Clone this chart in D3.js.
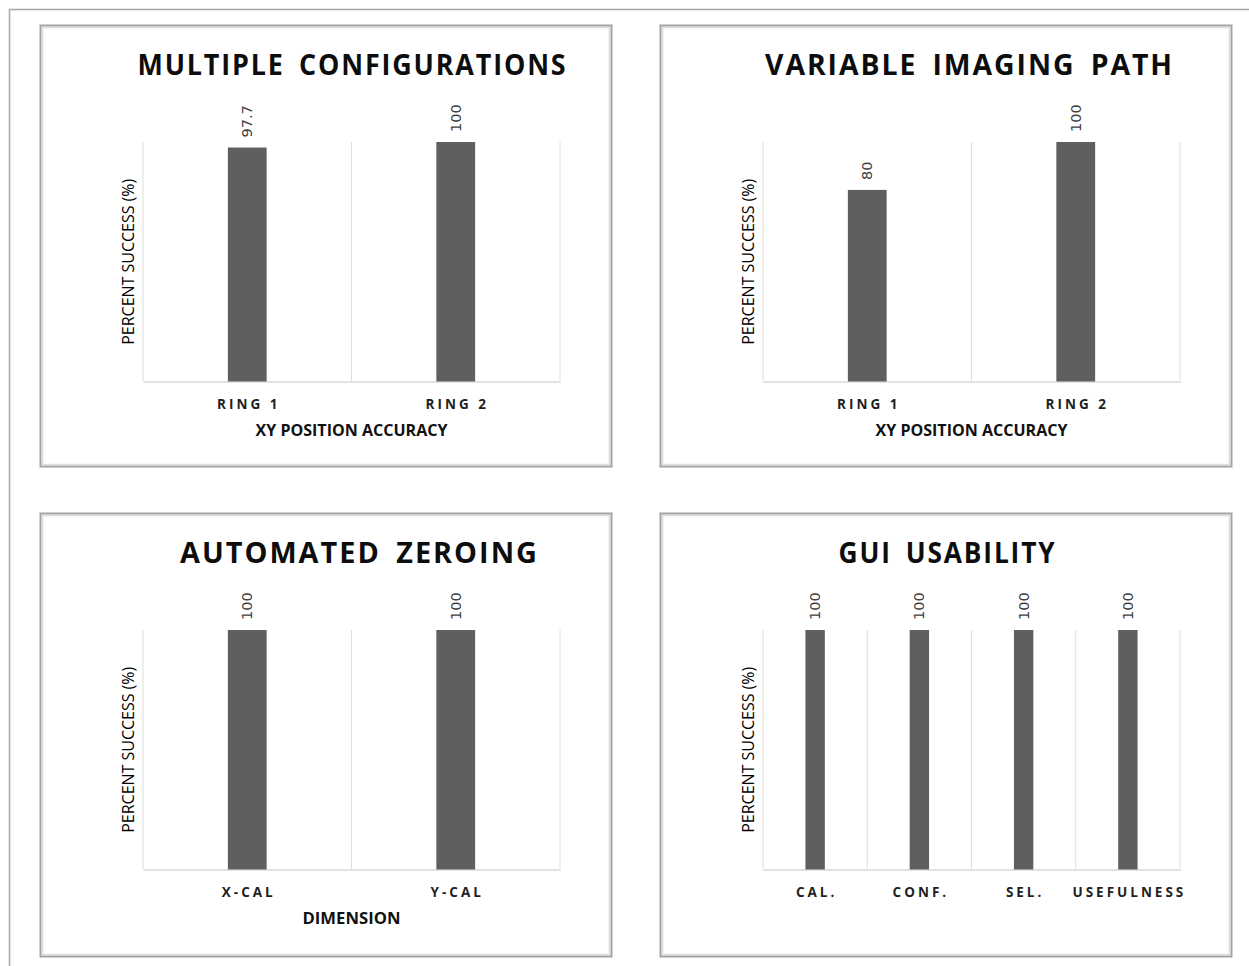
<!DOCTYPE html>
<html>
<head>
<meta charset="utf-8">
<script src="https://cdn.jsdelivr.net/npm/d3@7"></script>
<style>
body { margin: 0; background: #fff; }
</style>
</head>
<body>
<svg id="page" width="1249" height="966"></svg>
<script>
const chartTitles = ['MULTIPLE CONFIGURATIONS', 'VARIABLE IMAGING PATH', 'AUTOMATED ZEROING', 'GUI USABILITY'];
const xAxisTitles = ['XY POSITION ACCURACY', 'XY POSITION ACCURACY', 'DIMENSION', ''];
const yAxisTitle = 'PERCENT SUCCESS (%)';

const multiConfigCategories = ['RING 1', 'RING 2'];
const multiConfigValues = [97.7, 100];
const imagingPathCategories = ['RING 1', 'RING 2'];
const imagingPathValues = [80, 100];
const zeroingCategories = ['X-CAL', 'Y-CAL'];
const zeroingValues = [100, 100];
const guiCategories = ['CAL.', 'CONF.', 'SEL.', 'USEFULNESS'];
const guiValues = [100, 100, 100, 100];

const svg = d3.select('#page');

// thin frame round the whole figure
svg.append('line').attr('x1', 9).attr('x2', 1249).attr('y1', 9.5).attr('y2', 9.5)
    .attr('stroke', '#a8a8a8').attr('stroke-width', 1.5);
svg.append('line').attr('x1', 9.5).attr('x2', 9.5).attr('y1', 9).attr('y2', 966)
    .attr('stroke', '#a8a8a8').attr('stroke-width', 1.5);

class BarChart {

    constructor(opts) {
        this.el = opts.el;
        this.box = opts.box;
        this.title = opts.title;
        this.titleWidth = opts.titleWidth;
        this.titleShift = opts.titleShift || 0;
        this.xTitle = opts.xTitle;
        this.xTitleWidth = opts.xTitleWidth;
        this.data = opts.categories.map((c, i) => ({cat: c, value: opts.values[i]}));
        this.draw();
    }

    draw() {
        const b = this.box;
        this.margin = {top: 117, left: 103, right: 51};
        this.w = b.w - this.margin.left - this.margin.right;
        this.h = 239.5;

        this.g = this.el.append('g').attr('transform', `translate(${b.x},${b.y})`);
        this.g.append('rect')
            .attr('x', 0.5).attr('y', 0.5).attr('width', b.w).attr('height', b.h)
            .attr('fill', '#fff').attr('stroke', '#a3a3a3').attr('stroke-width', 2);
        this.g.append('rect')
            .attr('x', 2.5).attr('y', 2.5).attr('width', b.w - 4).attr('height', b.h - 4)
            .attr('fill', 'none').attr('stroke', '#dcdcdc').attr('stroke-width', 1.5);

        this.plot = this.g.append('g')
            .attr('transform', `translate(${this.margin.left},${this.margin.top})`);

        this.createScales();
        this.addGrid();
        this.addBars();
        this.addTexts();
    }

    createScales() {
        this.xScale = d3.scaleBand()
            .domain(this.data.map(d => d.cat))
            .range([0, this.w])
            .padding(0);
        this.yScale = d3.scaleLinear()
            .domain([0, 100])
            .range([this.h, 0]);
    }

    addGrid() {
        const bounds = this.data.map(d => this.xScale(d.cat)).concat([this.w]);
        this.plot.selectAll('.vgrid')
            .data(bounds)
            .enter()
            .append('line')
            .attr('x1', d => d).attr('x2', d => d)
            .attr('y1', this.yScale(100)).attr('y2', this.yScale(0))
            .attr('stroke', '#dedede').attr('stroke-width', 1);

        const xAxis = d3.axisBottom(this.xScale).tickSize(0).tickFormat('');
        const ax = this.plot.append('g')
            .attr('transform', `translate(0,${this.h})`)
            .call(xAxis);
        ax.select('.domain').attr('stroke', '#d9d9d9').attr('stroke-width', 1.5);
    }

    addBars() {
        const bw = this.xScale.bandwidth() * 0.186;
        const cx = d => this.xScale(d.cat) + this.xScale.bandwidth() / 2;

        this.plot.selectAll('.bar')
            .data(this.data)
            .enter()
            .append('rect')
            .attr('x', d => cx(d) - bw / 2)
            .attr('y', d => this.yScale(d.value))
            .attr('width', bw)
            .attr('height', d => this.h - this.yScale(d.value))
            .attr('fill', '#5f5f5f');

        this.plot.selectAll('.data-label')
            .data(this.data)
            .enter()
            .append('text')
            .text(d => d.value)
            .attr('transform', d => `translate(${cx(d)},${this.yScale(d.value) - 10}) rotate(-90)`)
            .attr('dy', '0.35em')
            .attr('font-family', 'DejaVu Sans')
            .attr('font-size', 14.5)
            .attr('fill', '#404040');

        this.plot.selectAll('.cat-label')
            .data(this.data)
            .enter()
            .append('text')
            .text(d => d.cat)
            .attr('x', d => cx(d) + 1.5)
            .attr('y', this.h + 27)
            .attr('text-anchor', 'middle')
            .attr('font-family', 'Open Sans')
            .attr('font-weight', 700)
            .attr('font-size', 13.5)
            .attr('letter-spacing', '3px')
            .attr('fill', '#1f1f1f');
    }

    addTexts() {
        this.plot.append('text')
            .text(this.title)
            .attr('x', this.w / 2 + this.titleShift)
            .attr('y', 50 - this.margin.top)
            .attr('text-anchor', 'middle')
            .attr('font-family', 'Open Sans')
            .attr('font-weight', 700)
            .attr('font-size', 29)
            .attr('letter-spacing', '2px')
            .attr('word-spacing', '6px')
            .attr('textLength', this.titleWidth)
            .attr('lengthAdjust', 'spacingAndGlyphs')
            .attr('fill', '#0d0d0d');

        this.plot.append('text')
            .text(yAxisTitle)
            .attr('transform', `translate(-9,${this.h / 2}) rotate(-90)`)
            .attr('text-anchor', 'middle')
            .attr('font-family', 'Open Sans')
            .attr('font-size', 16)
            .attr('textLength', 166)
            .attr('lengthAdjust', 'spacingAndGlyphs')
            .attr('fill', '#000');

        if (this.xTitle) {
            this.plot.append('text')
                .text(this.xTitle)
                .attr('x', this.w / 2)
                .attr('y', this.h + 54)
                .attr('text-anchor', 'middle')
                .attr('font-family', 'Open Sans')
                .attr('font-weight', 700)
                .attr('font-size', 15.5)
                .attr('textLength', this.xTitleWidth)
                .attr('lengthAdjust', 'spacingAndGlyphs')
                .attr('fill', '#111');
        }
    }
}

new BarChart({
    el: svg, box: {x: 40, y: 25, w: 571, h: 441},
    title: chartTitles[0], titleWidth: 430, titleShift: 1,
    xTitle: xAxisTitles[0], xTitleWidth: 192,
    categories: multiConfigCategories, values: multiConfigValues
});
new BarChart({
    el: svg, box: {x: 660, y: 25, w: 571, h: 441},
    title: chartTitles[1], titleWidth: 409, titleShift: -2,
    xTitle: xAxisTitles[1], xTitleWidth: 192,
    categories: imagingPathCategories, values: imagingPathValues
});
new BarChart({
    el: svg, box: {x: 40, y: 513, w: 571, h: 443},
    title: chartTitles[2], titleWidth: 359, titleShift: 8,
    xTitle: xAxisTitles[2], xTitleWidth: 98,
    categories: zeroingCategories, values: zeroingValues
});
new BarChart({
    el: svg, box: {x: 660, y: 513, w: 571, h: 443},
    title: chartTitles[3], titleWidth: 218, titleShift: -24,
    xTitle: xAxisTitles[3], xTitleWidth: 0,
    categories: guiCategories, values: guiValues
});
</script>
</body>
</html>
